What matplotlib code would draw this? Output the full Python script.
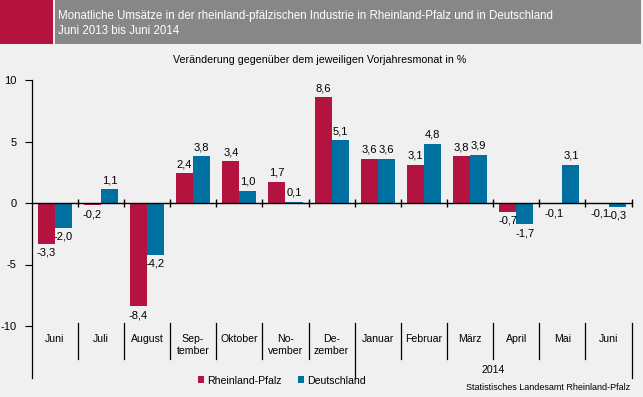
import matplotlib
matplotlib.use("Agg")
import matplotlib.pyplot as plt
import matplotlib.transforms as mtransforms
from matplotlib.patches import Rectangle, Patch
from matplotlib.lines import Line2D
import numpy as np

plt.rcParams['font.family'] = ['Liberation Sans', 'DejaVu Sans']

categories = ["Juni", "Juli", "August", "Sep-\ntember", "Oktober", "No-\nvember",
              "De-\nzember", "Januar", "Februar", "März", "April", "Mai", "Juni"]
rlp = [-3.3, -0.2, -8.4, 2.4, 3.4, 1.7, 8.6, 3.6, 3.1, 3.8, -0.7, -0.1, -0.1]
de = [-2.0, 1.1, -4.2, 3.8, 1.0, 0.1, 5.1, 3.6, 4.8, 3.9, -1.7, 3.1, -0.3]
yticks = [-10, -5, 0, 5, 10]
series_names = ["Rheinland-Pfalz", "Deutschland"]
title_lines = ["Monatliche Umsätze in der rheinland-pfälzischen Industrie in Rheinland-Pfalz und in Deutschland",
               "Juni 2013 bis Juni 2014"]
subtitle = "Veränderung gegenüber dem jeweiligen Vorjahresmonat in %"
year_label = "2014"
source = "Statistisches Landesamt Rheinland-Pfalz"

BG = "#EFF0EF"
RED = "#B5133F"
BLUE = "#0070A0"
GRAY = "#878787"

W, H = 643, 397
fig = plt.figure(figsize=(W / 100, H / 100), dpi=100, facecolor=BG)

def fx(px):
    return px / W

def fy(py):
    return 1 - py / H

# Title bar
bar_h = 44.3
fig.patches.append(Rectangle((0, fy(bar_h)), fx(53), bar_h / H, transform=fig.transFigure,
                             facecolor="#B5123E", edgecolor="none"))
fig.patches.append(Rectangle((fx(55), fy(bar_h)), fx(641) - fx(55), bar_h / H, transform=fig.transFigure,
                             facecolor=GRAY, edgecolor="none"))
fig.text(fx(58), fy(15.7), title_lines[0], color="white", fontsize=8.3, va="center", ha="left")
fig.text(fx(58), fy(30.7), title_lines[1], color="white", fontsize=8.3, va="center", ha="left")
fig.text(fx(320), fy(60), subtitle, color="black", fontsize=7.7, va="center", ha="center")

left, right = 31.6, 631.6
top, bottom = 80, 326
ax = fig.add_axes([fx(left), fy(bottom), fx(right) - fx(left), (bottom - top) / H])
ax.set_facecolor(BG)
ax.patch.set_alpha(0)

x = np.arange(len(categories))
bw = 0.37
ax.bar(x - bw / 2, rlp, width=bw, color=RED, label=series_names[0], zorder=2)
ax.bar(x + bw / 2, de, width=bw, color=BLUE, label=series_names[1], zorder=2)

ax.set_xlim(-0.5, len(categories) - 0.5)
ax.set_ylim(-10, 10)
ax.set_yticks(yticks)
ax.set_yticklabels([str(v) for v in yticks], fontsize=8)
ax.tick_params(axis='y', length=5, width=0.8, pad=6)
ax.set_xticks([])
for s in ["top", "right", "bottom", "left"]:
    ax.spines[s].set_visible(False)

def lbl(v):
    return f"{v:.1f}".replace(".", ",")

for xs, vals in [(x - bw / 2, rlp), (x + bw / 2, de)]:
    for xi, v in zip(xs, vals):
        if v >= 0:
            ax.annotate(lbl(v), (xi, v), xytext=(0, 3), textcoords="offset points",
                        ha="center", va="bottom", fontsize=8)
        else:
            ax.annotate(lbl(v), (xi, v), xytext=(0, -3), textcoords="offset points",
                        ha="center", va="top", fontsize=8)

# zero line with boundary ticks
trans = mtransforms.blended_transform_factory(ax.transData, ax.transAxes)
ax.plot([-0.5, len(categories) - 0.5], [0, 0], color="black", lw=1, zorder=3, clip_on=False)
for k in range(1, len(categories) + 1):
    ax.plot([k - 0.5], [0], marker="|", markersize=6, color="black", mew=1, zorder=3, clip_on=False)

def ay(py):
    return (fy(py) - fy(bottom)) / ((bottom - top) / H)

# left axis line extended
ax.add_line(Line2D([-0.5, -0.5], [1, ay(378)], transform=trans, color="black", lw=0.9, clip_on=False))
# category dividers
for k in range(1, len(categories) + 1):
    b = k - 0.5
    y2 = ay(378) if k in (7, 13) else ay(358.7)
    ax.add_line(Line2D([b, b], [ay(323.3), y2], transform=trans, color="black", lw=0.9, clip_on=False))

for xi, c in zip(x, categories):
    ax.text(xi, ay(334), c, transform=trans, ha="center", va="top", fontsize=7.6, linespacing=1.2)
ax.text(9.5, ay(370), year_label, transform=trans, ha="center", va="center", fontsize=7.6)

handles = [Patch(facecolor=RED, edgecolor="none"), Patch(facecolor=BLUE, edgecolor="none")]
fig.legend(handles, series_names, loc="center", bbox_to_anchor=(fx(282), fy(380.5)), ncol=2,
           frameon=False, fontsize=7.6, handlelength=0.6, handleheight=0.6, handletextpad=0.3,
           columnspacing=1.5)
fig.text(fx(630), fy(388), source, ha="right", va="center", fontsize=6.5)

fig.savefig("out.png", dpi=100, facecolor=BG)
